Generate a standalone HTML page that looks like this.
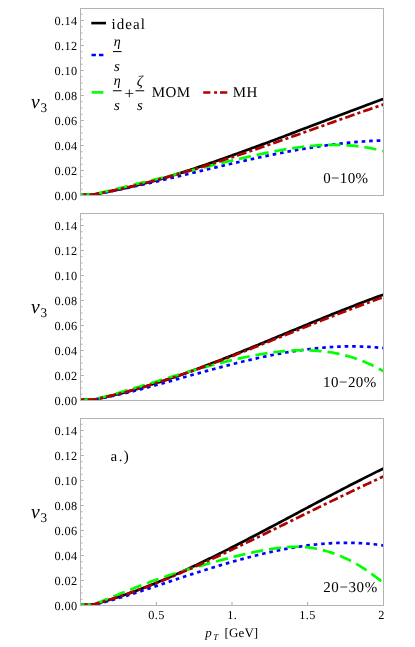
<!DOCTYPE html><html><head><meta charset="utf-8"><style>html,body{margin:0;padding:0;background:#fff}svg{display:block;will-change:transform}text{font-family:"Liberation Serif",serif;fill:#000;text-rendering:geometricPrecision}</style></head><body>
<svg width="415" height="647" viewBox="0 0 415 647">
<rect width="415" height="647" fill="#fff"/>
<defs>
<clipPath id="c0"><rect x="80.00" y="8.00" width="304.00" height="188.00"/></clipPath>
<clipPath id="c1"><rect x="80.00" y="213.00" width="304.00" height="188.00"/></clipPath>
<clipPath id="c2"><rect x="80.00" y="418.00" width="304.00" height="188.00"/></clipPath>
</defs>
<g clip-path="url(#c0)" fill="none">
<path d="M383.50 98.91 C383.08 99.06 382.08 99.43 381.00 99.82 C379.92 100.22 378.33 100.79 377.00 101.28 C375.67 101.77 374.33 102.26 373.00 102.75 C371.67 103.24 370.33 103.73 369.00 104.22 C367.67 104.72 366.33 105.21 365.00 105.70 C363.67 106.20 362.33 106.69 361.00 107.19 C359.67 107.69 358.33 108.18 357.00 108.68 C355.67 109.18 354.33 109.68 353.00 110.18 C351.67 110.67 350.33 111.17 349.00 111.67 C347.67 112.17 346.33 112.68 345.00 113.18 C343.67 113.68 342.33 114.18 341.00 114.68 C339.67 115.19 338.33 115.69 337.00 116.19 C335.67 116.70 334.33 117.20 333.00 117.71 C331.67 118.21 330.33 118.71 329.00 119.22 C327.67 119.72 326.33 120.23 325.00 120.74 C323.67 121.24 322.33 121.75 321.00 122.25 C319.67 122.76 318.33 123.26 317.00 123.77 C315.67 124.28 314.33 124.78 313.00 125.29 C311.67 125.80 310.33 126.30 309.00 126.81 C307.67 127.31 306.33 127.82 305.00 128.33 C303.67 128.83 302.33 129.34 301.00 129.84 C299.67 130.35 298.33 130.85 297.00 131.36 C295.67 131.87 294.33 132.37 293.00 132.87 C291.67 133.38 290.33 133.88 289.00 134.39 C287.67 134.89 286.33 135.39 285.00 135.90 C283.67 136.40 282.33 136.90 281.00 137.40 C279.67 137.91 278.33 138.41 277.00 138.91 C275.67 139.41 274.33 139.91 273.00 140.41 C271.67 140.91 270.33 141.41 269.00 141.90 C267.67 142.40 266.33 142.90 265.00 143.40 C263.67 143.89 262.33 144.39 261.00 144.88 C259.67 145.38 258.33 145.87 257.00 146.36 C255.67 146.86 254.33 147.35 253.00 147.84 C251.67 148.33 250.33 148.82 249.00 149.31 C247.67 149.80 246.33 150.28 245.00 150.77 C243.67 151.26 242.33 151.74 241.00 152.22 C239.67 152.71 238.33 153.19 237.00 153.67 C235.67 154.15 234.33 154.63 233.00 155.11 C231.67 155.59 230.33 156.07 229.00 156.54 C227.67 157.02 226.33 157.49 225.00 157.97 C223.67 158.44 222.33 158.91 221.00 159.38 C219.67 159.85 218.33 160.32 217.00 160.78 C215.67 161.25 214.33 161.71 213.00 162.18 C211.67 162.64 210.33 163.10 209.00 163.56 C207.67 164.02 206.33 164.47 205.00 164.93 C203.67 165.38 202.33 165.84 201.00 166.29 C199.67 166.74 198.33 167.19 197.00 167.63 C195.67 168.08 194.33 168.52 193.00 168.96 C191.67 169.40 190.33 169.84 189.00 170.27 C187.67 170.70 186.33 171.14 185.00 171.56 C183.67 171.99 182.33 172.42 181.00 172.84 C179.67 173.26 178.33 173.68 177.00 174.09 C175.67 174.51 174.33 174.92 173.00 175.33 C171.67 175.73 170.33 176.14 169.00 176.54 C167.67 176.94 166.33 177.33 165.00 177.73 C163.67 178.12 162.33 178.51 161.00 178.89 C159.67 179.27 158.33 179.65 157.00 180.03 C155.67 180.40 154.33 180.77 153.00 181.14 C151.67 181.50 150.33 181.86 149.00 182.22 C147.67 182.57 146.33 182.93 145.00 183.27 C143.67 183.62 142.33 183.96 141.00 184.30 C139.67 184.63 138.33 184.97 137.00 185.29 C135.67 185.62 134.33 185.94 133.00 186.26 C131.67 186.58 130.33 186.89 129.00 187.20 C127.67 187.51 126.33 187.82 125.00 188.12 C123.67 188.42 122.33 188.72 121.00 189.01 C119.67 189.30 118.33 189.59 117.00 189.87 C115.67 190.16 114.33 190.44 113.00 190.71 C111.67 190.99 110.33 191.26 109.00 191.53 C107.67 191.80 106.33 192.06 105.00 192.33 C103.67 192.59 102.33 192.84 101.00 193.10 C99.67 193.35 98.33 193.61 97.00 193.85 C95.67 194.10 95.75 194.45 93.00 194.59 C90.25 194.73 82.58 194.68 80.50 194.70" stroke="#000" stroke-width="2.7"/>
<path d="M383.50 140.44 C383.08 140.46 382.08 140.48 381.00 140.52 C379.92 140.56 378.33 140.62 377.00 140.67 C375.67 140.73 374.33 140.79 373.00 140.86 C371.67 140.93 370.33 141.00 369.00 141.08 C367.67 141.16 366.33 141.25 365.00 141.34 C363.67 141.43 362.33 141.52 361.00 141.62 C359.67 141.73 358.33 141.83 357.00 141.94 C355.67 142.05 354.33 142.17 353.00 142.29 C351.67 142.41 350.33 142.54 349.00 142.67 C347.67 142.80 346.33 142.94 345.00 143.08 C343.67 143.22 342.33 143.37 341.00 143.52 C339.67 143.67 338.33 143.82 337.00 143.98 C335.67 144.14 334.33 144.31 333.00 144.48 C331.67 144.64 330.33 144.82 329.00 144.99 C327.67 145.17 326.33 145.35 325.00 145.54 C323.67 145.72 322.33 145.91 321.00 146.11 C319.67 146.30 318.33 146.50 317.00 146.70 C315.67 146.90 314.33 147.11 313.00 147.31 C311.67 147.52 310.33 147.74 309.00 147.95 C307.67 148.17 306.33 148.39 305.00 148.61 C303.67 148.84 302.33 149.06 301.00 149.29 C299.67 149.52 298.33 149.76 297.00 149.99 C295.67 150.23 294.33 150.47 293.00 150.71 C291.67 150.96 290.33 151.20 289.00 151.45 C287.67 151.70 286.33 151.96 285.00 152.21 C283.67 152.47 282.33 152.72 281.00 152.98 C279.67 153.25 278.33 153.51 277.00 153.77 C275.67 154.04 274.33 154.31 273.00 154.58 C271.67 154.85 270.33 155.13 269.00 155.40 C267.67 155.68 266.33 155.96 265.00 156.24 C263.67 156.52 262.33 156.80 261.00 157.08 C259.67 157.37 258.33 157.66 257.00 157.95 C255.67 158.23 254.33 158.53 253.00 158.82 C251.67 159.11 250.33 159.41 249.00 159.70 C247.67 160.00 246.33 160.30 245.00 160.60 C243.67 160.90 242.33 161.20 241.00 161.50 C239.67 161.80 238.33 162.11 237.00 162.41 C235.67 162.72 234.33 163.02 233.00 163.33 C231.67 163.64 230.33 163.95 229.00 164.26 C227.67 164.57 226.33 164.88 225.00 165.19 C223.67 165.51 222.33 165.82 221.00 166.13 C219.67 166.45 218.33 166.76 217.00 167.08 C215.67 167.39 214.33 167.71 213.00 168.03 C211.67 168.34 210.33 168.66 209.00 168.98 C207.67 169.30 206.33 169.62 205.00 169.94 C203.67 170.25 202.33 170.57 201.00 170.89 C199.67 171.21 198.33 171.53 197.00 171.85 C195.67 172.17 194.33 172.49 193.00 172.81 C191.67 173.13 190.33 173.45 189.00 173.77 C187.67 174.09 186.33 174.41 185.00 174.72 C183.67 175.04 182.33 175.36 181.00 175.68 C179.67 176.00 178.33 176.32 177.00 176.63 C175.67 176.95 174.33 177.27 173.00 177.58 C171.67 177.90 170.33 178.21 169.00 178.53 C167.67 178.84 166.33 179.15 165.00 179.47 C163.67 179.78 162.33 180.09 161.00 180.40 C159.67 180.71 158.33 181.02 157.00 181.33 C155.67 181.64 154.33 181.95 153.00 182.25 C151.67 182.56 150.33 182.86 149.00 183.16 C147.67 183.47 146.33 183.77 145.00 184.07 C143.67 184.37 142.33 184.67 141.00 184.96 C139.67 185.26 138.33 185.55 137.00 185.85 C135.67 186.14 134.33 186.43 133.00 186.72 C131.67 187.01 130.33 187.30 129.00 187.58 C127.67 187.87 126.33 188.15 125.00 188.43 C123.67 188.71 122.33 188.99 121.00 189.27 C119.67 189.55 118.33 189.82 117.00 190.09 C115.67 190.36 114.33 190.63 113.00 190.90 C111.67 191.16 110.33 191.43 109.00 191.69 C107.67 191.95 106.33 192.21 105.00 192.47 C103.67 192.72 102.33 192.97 101.00 193.22 C99.67 193.47 98.33 193.72 97.00 193.96 C95.67 194.21 95.75 194.56 93.00 194.69 C90.25 194.81 82.58 194.70 80.50 194.70" stroke="#0000ff" stroke-width="2.7" stroke-dasharray="3.6 3.9" stroke-dashoffset="4.25"/>
<path d="M383.50 151.26 C383.08 151.14 382.08 150.86 381.00 150.58 C379.92 150.31 378.33 149.91 377.00 149.59 C375.67 149.28 374.33 148.99 373.00 148.71 C371.67 148.43 370.33 148.16 369.00 147.92 C367.67 147.67 366.33 147.44 365.00 147.23 C363.67 147.01 362.33 146.81 361.00 146.63 C359.67 146.44 358.33 146.27 357.00 146.12 C355.67 145.97 354.33 145.83 353.00 145.70 C351.67 145.58 350.33 145.47 349.00 145.37 C347.67 145.27 346.33 145.19 345.00 145.12 C343.67 145.05 342.33 144.99 341.00 144.95 C339.67 144.90 338.33 144.87 337.00 144.86 C335.67 144.84 334.33 144.83 333.00 144.84 C331.67 144.84 330.33 144.86 329.00 144.89 C327.67 144.92 326.33 144.96 325.00 145.01 C323.67 145.06 322.33 145.13 321.00 145.20 C319.67 145.27 318.33 145.36 317.00 145.45 C315.67 145.54 314.33 145.65 313.00 145.76 C311.67 145.87 310.33 146.00 309.00 146.13 C307.67 146.26 306.33 146.40 305.00 146.55 C303.67 146.70 302.33 146.86 301.00 147.03 C299.67 147.19 298.33 147.37 297.00 147.55 C295.67 147.73 294.33 147.92 293.00 148.12 C291.67 148.32 290.33 148.52 289.00 148.74 C287.67 148.95 286.33 149.17 285.00 149.39 C283.67 149.62 282.33 149.85 281.00 150.08 C279.67 150.32 278.33 150.56 277.00 150.81 C275.67 151.06 274.33 151.32 273.00 151.57 C271.67 151.83 270.33 152.10 269.00 152.36 C267.67 152.63 266.33 152.90 265.00 153.18 C263.67 153.46 262.33 153.74 261.00 154.02 C259.67 154.31 258.33 154.59 257.00 154.88 C255.67 155.18 254.33 155.47 253.00 155.77 C251.67 156.06 250.33 156.36 249.00 156.66 C247.67 156.96 246.33 157.27 245.00 157.57 C243.67 157.88 242.33 158.18 241.00 158.49 C239.67 158.80 238.33 159.11 237.00 159.42 C235.67 159.73 234.33 160.04 233.00 160.35 C231.67 160.67 230.33 160.98 229.00 161.29 C227.67 161.61 226.33 161.93 225.00 162.24 C223.67 162.56 222.33 162.88 221.00 163.20 C219.67 163.52 218.33 163.84 217.00 164.16 C215.67 164.48 214.33 164.80 213.00 165.12 C211.67 165.45 210.33 165.77 209.00 166.09 C207.67 166.42 206.33 166.74 205.00 167.07 C203.67 167.39 202.33 167.72 201.00 168.05 C199.67 168.37 198.33 168.70 197.00 169.03 C195.67 169.36 194.33 169.69 193.00 170.02 C191.67 170.34 190.33 170.67 189.00 171.00 C187.67 171.33 186.33 171.66 185.00 172.00 C183.67 172.33 182.33 172.66 181.00 172.99 C179.67 173.32 178.33 173.65 177.00 173.98 C175.67 174.31 174.33 174.65 173.00 174.98 C171.67 175.31 170.33 175.64 169.00 175.97 C167.67 176.31 166.33 176.64 165.00 176.97 C163.67 177.30 162.33 177.64 161.00 177.97 C159.67 178.30 158.33 178.63 157.00 178.96 C155.67 179.30 154.33 179.63 153.00 179.96 C151.67 180.29 150.33 180.62 149.00 180.95 C147.67 181.28 146.33 181.61 145.00 181.94 C143.67 182.27 142.33 182.60 141.00 182.93 C139.67 183.26 138.33 183.59 137.00 183.92 C135.67 184.25 134.33 184.58 133.00 184.90 C131.67 185.23 130.33 185.56 129.00 185.88 C127.67 186.21 126.33 186.54 125.00 186.86 C123.67 187.19 122.33 187.51 121.00 187.83 C119.67 188.16 118.33 188.48 117.00 188.80 C115.67 189.12 114.33 189.44 113.00 189.76 C111.67 190.08 110.33 190.40 109.00 190.72 C107.67 191.04 106.33 191.35 105.00 191.67 C103.67 191.99 102.33 192.30 101.00 192.61 C99.67 192.93 98.33 193.24 97.00 193.55 C95.67 193.86 95.75 194.29 93.00 194.48 C90.25 194.67 82.58 194.66 80.50 194.70" stroke="#00ff00" stroke-width="2.7" stroke-dasharray="12.2 5.9" stroke-dashoffset="10.65"/>
<path d="M383.50 104.42 C383.08 104.56 382.08 104.90 381.00 105.27 C379.92 105.65 378.33 106.19 377.00 106.65 C375.67 107.11 374.33 107.57 373.00 108.04 C371.67 108.50 370.33 108.96 369.00 109.43 C367.67 109.89 366.33 110.36 365.00 110.82 C363.67 111.29 362.33 111.75 361.00 112.22 C359.67 112.69 358.33 113.16 357.00 113.62 C355.67 114.09 354.33 114.56 353.00 115.03 C351.67 115.50 350.33 115.97 349.00 116.44 C347.67 116.91 346.33 117.39 345.00 117.86 C343.67 118.33 342.33 118.80 341.00 119.27 C339.67 119.75 338.33 120.22 337.00 120.69 C335.67 121.17 334.33 121.64 333.00 122.11 C331.67 122.59 330.33 123.06 329.00 123.53 C327.67 124.01 326.33 124.48 325.00 124.96 C323.67 125.43 322.33 125.91 321.00 126.38 C319.67 126.86 318.33 127.33 317.00 127.80 C315.67 128.28 314.33 128.75 313.00 129.23 C311.67 129.70 310.33 130.18 309.00 130.65 C307.67 131.12 306.33 131.60 305.00 132.07 C303.67 132.54 302.33 133.02 301.00 133.49 C299.67 133.96 298.33 134.44 297.00 134.91 C295.67 135.38 294.33 135.85 293.00 136.32 C291.67 136.79 290.33 137.26 289.00 137.73 C287.67 138.20 286.33 138.67 285.00 139.14 C283.67 139.61 282.33 140.08 281.00 140.55 C279.67 141.02 278.33 141.48 277.00 141.95 C275.67 142.41 274.33 142.88 273.00 143.34 C271.67 143.81 270.33 144.27 269.00 144.74 C267.67 145.20 266.33 145.66 265.00 146.12 C263.67 146.58 262.33 147.04 261.00 147.50 C259.67 147.96 258.33 148.42 257.00 148.88 C255.67 149.33 254.33 149.79 253.00 150.24 C251.67 150.70 250.33 151.15 249.00 151.60 C247.67 152.05 246.33 152.50 245.00 152.95 C243.67 153.40 242.33 153.85 241.00 154.30 C239.67 154.75 238.33 155.19 237.00 155.63 C235.67 156.08 234.33 156.52 233.00 156.96 C231.67 157.40 230.33 157.84 229.00 158.28 C227.67 158.72 226.33 159.15 225.00 159.59 C223.67 160.02 222.33 160.46 221.00 160.89 C219.67 161.32 218.33 161.75 217.00 162.17 C215.67 162.60 214.33 163.03 213.00 163.45 C211.67 163.87 210.33 164.30 209.00 164.72 C207.67 165.14 206.33 165.55 205.00 165.97 C203.67 166.39 202.33 166.80 201.00 167.21 C199.67 167.62 198.33 168.03 197.00 168.44 C195.67 168.85 194.33 169.25 193.00 169.66 C191.67 170.06 190.33 170.46 189.00 170.86 C187.67 171.26 186.33 171.65 185.00 172.05 C183.67 172.44 182.33 172.83 181.00 173.22 C179.67 173.61 178.33 174.00 177.00 174.38 C175.67 174.77 174.33 175.15 173.00 175.53 C171.67 175.91 170.33 176.28 169.00 176.66 C167.67 177.03 166.33 177.40 165.00 177.77 C163.67 178.14 162.33 178.50 161.00 178.87 C159.67 179.23 158.33 179.59 157.00 179.95 C155.67 180.30 154.33 180.66 153.00 181.01 C151.67 181.36 150.33 181.71 149.00 182.05 C147.67 182.40 146.33 182.74 145.00 183.08 C143.67 183.42 142.33 183.76 141.00 184.09 C139.67 184.42 138.33 184.75 137.00 185.08 C135.67 185.41 134.33 185.73 133.00 186.05 C131.67 186.37 130.33 186.69 129.00 187.00 C127.67 187.31 126.33 187.62 125.00 187.93 C123.67 188.24 122.33 188.54 121.00 188.84 C119.67 189.14 118.33 189.44 117.00 189.73 C115.67 190.02 114.33 190.31 113.00 190.60 C111.67 190.88 110.33 191.16 109.00 191.44 C107.67 191.72 106.33 191.99 105.00 192.26 C103.67 192.54 102.33 192.80 101.00 193.07 C99.67 193.33 98.33 193.59 97.00 193.84 C95.67 194.10 95.75 194.45 93.00 194.60 C90.25 194.74 82.58 194.68 80.50 194.70" stroke="#b00000" stroke-width="2.7" stroke-dasharray="9.8 3.1 3.1 3.1" stroke-dashoffset="7.5"/>
</g>
<rect x="80.5" y="8.5" width="303.0" height="187.0" fill="none" stroke="#b3b3b3" stroke-width="1"/>
<path d="M80.50 195.50h3.4M80.50 189.25h2.1M80.50 183.00h2.1M80.50 176.75h2.1M80.50 170.50h3.4M80.50 164.25h2.1M80.50 158.00h2.1M80.50 151.75h2.1M80.50 145.50h3.4M80.50 139.25h2.1M80.50 133.00h2.1M80.50 126.75h2.1M80.50 120.50h3.4M80.50 114.25h2.1M80.50 108.00h2.1M80.50 101.75h2.1M80.50 95.50h3.4M80.50 89.25h2.1M80.50 83.00h2.1M80.50 76.75h2.1M80.50 70.50h3.4M80.50 64.25h2.1M80.50 58.00h2.1M80.50 51.75h2.1M80.50 45.50h3.4M80.50 39.25h2.1M80.50 33.00h2.1M80.50 26.75h2.1M80.50 20.50h3.4M80.50 14.25h2.1" stroke="#b3b3b3" stroke-width="1" fill="none"/>
<text x="77.60" y="199.60" font-size="12.3" text-anchor="end" letter-spacing="0.4">0.00</text>
<text x="77.60" y="174.60" font-size="12.3" text-anchor="end" letter-spacing="0.4">0.02</text>
<text x="77.60" y="149.60" font-size="12.3" text-anchor="end" letter-spacing="0.4">0.04</text>
<text x="77.60" y="124.60" font-size="12.3" text-anchor="end" letter-spacing="0.4">0.06</text>
<text x="77.60" y="99.60" font-size="12.3" text-anchor="end" letter-spacing="0.4">0.08</text>
<text x="77.60" y="74.60" font-size="12.3" text-anchor="end" letter-spacing="0.4">0.10</text>
<text x="77.60" y="49.60" font-size="12.3" text-anchor="end" letter-spacing="0.4">0.12</text>
<text x="77.60" y="24.60" font-size="12.3" text-anchor="end" letter-spacing="0.4">0.14</text>
<text x="31.00" y="107.90" font-size="19.5" font-style="italic">v</text>
<text x="40.40" y="112.40" font-size="13.2">3</text>
<g clip-path="url(#c1)" fill="none">
<path d="M383.50 294.63 C383.25 294.72 382.92 294.83 382.00 295.17 C381.08 295.50 379.33 296.13 378.00 296.62 C376.67 297.10 375.33 297.59 374.00 298.09 C372.67 298.58 371.33 299.07 370.00 299.57 C368.67 300.07 367.33 300.57 366.00 301.07 C364.67 301.57 363.33 302.08 362.00 302.59 C360.67 303.10 359.33 303.61 358.00 304.12 C356.67 304.63 355.33 305.14 354.00 305.66 C352.67 306.18 351.33 306.70 350.00 307.22 C348.67 307.74 347.33 308.26 346.00 308.79 C344.67 309.31 343.33 309.84 342.00 310.37 C340.67 310.90 339.33 311.43 338.00 311.96 C336.67 312.49 335.33 313.03 334.00 313.56 C332.67 314.10 331.33 314.63 330.00 315.17 C328.67 315.71 327.33 316.25 326.00 316.79 C324.67 317.33 323.33 317.87 322.00 318.42 C320.67 318.96 319.33 319.50 318.00 320.05 C316.67 320.59 315.33 321.14 314.00 321.69 C312.67 322.24 311.33 322.78 310.00 323.33 C308.67 323.88 307.33 324.43 306.00 324.98 C304.67 325.53 303.33 326.08 302.00 326.64 C300.67 327.19 299.33 327.74 298.00 328.29 C296.67 328.85 295.33 329.40 294.00 329.95 C292.67 330.51 291.33 331.06 290.00 331.61 C288.67 332.17 287.33 332.72 286.00 333.28 C284.67 333.83 283.33 334.38 282.00 334.94 C280.67 335.49 279.33 336.05 278.00 336.60 C276.67 337.15 275.33 337.71 274.00 338.26 C272.67 338.81 271.33 339.37 270.00 339.92 C268.67 340.47 267.33 341.02 266.00 341.58 C264.67 342.13 263.33 342.68 262.00 343.23 C260.67 343.78 259.33 344.33 258.00 344.88 C256.67 345.42 255.33 345.97 254.00 346.52 C252.67 347.07 251.33 347.61 250.00 348.16 C248.67 348.70 247.33 349.24 246.00 349.79 C244.67 350.33 243.33 350.87 242.00 351.41 C240.67 351.95 239.33 352.49 238.00 353.03 C236.67 353.56 235.33 354.10 234.00 354.63 C232.67 355.17 231.33 355.70 230.00 356.23 C228.67 356.76 227.33 357.29 226.00 357.82 C224.67 358.35 223.33 358.87 222.00 359.40 C220.67 359.92 219.33 360.44 218.00 360.96 C216.67 361.48 215.33 362.00 214.00 362.51 C212.67 363.03 211.33 363.54 210.00 364.05 C208.67 364.56 207.33 365.07 206.00 365.58 C204.67 366.08 203.33 366.59 202.00 367.09 C200.67 367.59 199.33 368.09 198.00 368.58 C196.67 369.08 195.33 369.57 194.00 370.06 C192.67 370.55 191.33 371.04 190.00 371.53 C188.67 372.01 187.33 372.49 186.00 372.97 C184.67 373.45 183.33 373.92 182.00 374.40 C180.67 374.87 179.33 375.34 178.00 375.80 C176.67 376.27 175.33 376.73 174.00 377.19 C172.67 377.65 171.33 378.11 170.00 378.56 C168.67 379.01 167.33 379.46 166.00 379.90 C164.67 380.35 163.33 380.79 162.00 381.23 C160.67 381.66 159.33 382.10 158.00 382.53 C156.67 382.96 155.33 383.38 154.00 383.80 C152.67 384.23 151.33 384.64 150.00 385.06 C148.67 385.47 147.33 385.88 146.00 386.28 C144.67 386.69 143.33 387.09 142.00 387.49 C140.67 387.88 139.33 388.27 138.00 388.66 C136.67 389.05 135.33 389.43 134.00 389.81 C132.67 390.19 131.33 390.56 130.00 390.93 C128.67 391.30 127.33 391.66 126.00 392.02 C124.67 392.38 123.33 392.73 122.00 393.08 C120.67 393.43 119.33 393.77 118.00 394.11 C116.67 394.45 115.33 394.78 114.00 395.11 C112.67 395.44 111.33 395.76 110.00 396.08 C108.67 396.40 107.33 396.71 106.00 397.02 C104.67 397.32 103.33 397.62 102.00 397.92 C100.67 398.21 99.33 398.50 98.00 398.79 C96.67 399.07 96.92 399.47 94.00 399.62 C91.08 399.77 82.75 399.69 80.50 399.70" stroke="#000" stroke-width="2.7"/>
<path d="M383.50 348.09 C383.25 348.06 382.92 348.02 382.00 347.92 C381.08 347.83 379.33 347.66 378.00 347.54 C376.67 347.42 375.33 347.31 374.00 347.21 C372.67 347.11 371.33 347.01 370.00 346.93 C368.67 346.85 367.33 346.78 366.00 346.72 C364.67 346.65 363.33 346.60 362.00 346.56 C360.67 346.51 359.33 346.48 358.00 346.45 C356.67 346.42 355.33 346.41 354.00 346.40 C352.67 346.39 351.33 346.39 350.00 346.40 C348.67 346.40 347.33 346.42 346.00 346.45 C344.67 346.47 343.33 346.50 342.00 346.55 C340.67 346.59 339.33 346.64 338.00 346.69 C336.67 346.75 335.33 346.82 334.00 346.89 C332.67 346.96 331.33 347.04 330.00 347.13 C328.67 347.22 327.33 347.31 326.00 347.42 C324.67 347.52 323.33 347.63 322.00 347.75 C320.67 347.86 319.33 347.99 318.00 348.12 C316.67 348.25 315.33 348.39 314.00 348.53 C312.67 348.68 311.33 348.83 310.00 348.99 C308.67 349.15 307.33 349.31 306.00 349.48 C304.67 349.65 303.33 349.83 302.00 350.01 C300.67 350.20 299.33 350.39 298.00 350.58 C296.67 350.78 295.33 350.98 294.00 351.19 C292.67 351.39 291.33 351.61 290.00 351.82 C288.67 352.04 287.33 352.27 286.00 352.50 C284.67 352.73 283.33 352.96 282.00 353.20 C280.67 353.44 279.33 353.69 278.00 353.94 C276.67 354.19 275.33 354.44 274.00 354.70 C272.67 354.96 271.33 355.23 270.00 355.50 C268.67 355.76 267.33 356.04 266.00 356.32 C264.67 356.60 263.33 356.88 262.00 357.17 C260.67 357.45 259.33 357.74 258.00 358.04 C256.67 358.33 255.33 358.63 254.00 358.94 C252.67 359.24 251.33 359.55 250.00 359.86 C248.67 360.17 247.33 360.48 246.00 360.80 C244.67 361.12 243.33 361.44 242.00 361.76 C240.67 362.09 239.33 362.41 238.00 362.74 C236.67 363.07 235.33 363.41 234.00 363.74 C232.67 364.08 231.33 364.42 230.00 364.76 C228.67 365.10 227.33 365.45 226.00 365.80 C224.67 366.14 223.33 366.49 222.00 366.84 C220.67 367.20 219.33 367.55 218.00 367.91 C216.67 368.26 215.33 368.62 214.00 368.98 C212.67 369.34 211.33 369.70 210.00 370.07 C208.67 370.43 207.33 370.80 206.00 371.16 C204.67 371.53 203.33 371.90 202.00 372.27 C200.67 372.64 199.33 373.01 198.00 373.38 C196.67 373.75 195.33 374.13 194.00 374.50 C192.67 374.87 191.33 375.25 190.00 375.62 C188.67 376.00 187.33 376.37 186.00 376.75 C184.67 377.13 183.33 377.50 182.00 377.88 C180.67 378.26 179.33 378.63 178.00 379.01 C176.67 379.38 175.33 379.76 174.00 380.13 C172.67 380.51 171.33 380.88 170.00 381.26 C168.67 381.63 167.33 382.00 166.00 382.38 C164.67 382.75 163.33 383.12 162.00 383.49 C160.67 383.86 159.33 384.22 158.00 384.59 C156.67 384.96 155.33 385.32 154.00 385.68 C152.67 386.04 151.33 386.40 150.00 386.76 C148.67 387.12 147.33 387.48 146.00 387.83 C144.67 388.18 143.33 388.53 142.00 388.88 C140.67 389.23 139.33 389.57 138.00 389.92 C136.67 390.26 135.33 390.60 134.00 390.93 C132.67 391.27 131.33 391.60 130.00 391.93 C128.67 392.26 127.33 392.58 126.00 392.90 C124.67 393.23 123.33 393.54 122.00 393.86 C120.67 394.17 119.33 394.48 118.00 394.78 C116.67 395.09 115.33 395.39 114.00 395.68 C112.67 395.98 111.33 396.27 110.00 396.55 C108.67 396.84 107.33 397.12 106.00 397.39 C104.67 397.67 103.33 397.94 102.00 398.20 C100.67 398.47 99.33 398.73 98.00 398.98 C96.67 399.23 96.92 399.60 94.00 399.72 C91.08 399.84 82.75 399.70 80.50 399.70" stroke="#0000ff" stroke-width="2.7" stroke-dasharray="3.6 3.9" stroke-dashoffset="2.2"/>
<path d="M383.50 371.28 C383.25 371.13 382.92 370.92 382.00 370.41 C381.08 369.90 379.33 368.92 378.00 368.21 C376.67 367.51 375.33 366.82 374.00 366.16 C372.67 365.50 371.33 364.86 370.00 364.25 C368.67 363.64 367.33 363.05 366.00 362.48 C364.67 361.91 363.33 361.37 362.00 360.84 C360.67 360.32 359.33 359.82 358.00 359.34 C356.67 358.86 355.33 358.40 354.00 357.97 C352.67 357.53 351.33 357.11 350.00 356.72 C348.67 356.32 347.33 355.94 346.00 355.59 C344.67 355.23 343.33 354.90 342.00 354.58 C340.67 354.26 339.33 353.96 338.00 353.69 C336.67 353.41 335.33 353.15 334.00 352.90 C332.67 352.66 331.33 352.44 330.00 352.23 C328.67 352.02 327.33 351.83 326.00 351.66 C324.67 351.49 323.33 351.33 322.00 351.19 C320.67 351.05 319.33 350.93 318.00 350.82 C316.67 350.71 315.33 350.62 314.00 350.55 C312.67 350.47 311.33 350.41 310.00 350.36 C308.67 350.32 307.33 350.28 306.00 350.27 C304.67 350.25 303.33 350.25 302.00 350.25 C300.67 350.26 299.33 350.29 298.00 350.32 C296.67 350.36 295.33 350.41 294.00 350.47 C292.67 350.53 291.33 350.61 290.00 350.69 C288.67 350.78 287.33 350.87 286.00 350.98 C284.67 351.09 283.33 351.21 282.00 351.34 C280.67 351.47 279.33 351.61 278.00 351.77 C276.67 351.92 275.33 352.08 274.00 352.25 C272.67 352.42 271.33 352.60 270.00 352.79 C268.67 352.98 267.33 353.18 266.00 353.38 C264.67 353.59 263.33 353.81 262.00 354.03 C260.67 354.25 259.33 354.48 258.00 354.72 C256.67 354.96 255.33 355.20 254.00 355.45 C252.67 355.71 251.33 355.96 250.00 356.23 C248.67 356.49 247.33 356.76 246.00 357.04 C244.67 357.32 243.33 357.60 242.00 357.89 C240.67 358.18 239.33 358.47 238.00 358.77 C236.67 359.07 235.33 359.37 234.00 359.68 C232.67 359.99 231.33 360.30 230.00 360.62 C228.67 360.94 227.33 361.27 226.00 361.60 C224.67 361.92 223.33 362.26 222.00 362.59 C220.67 362.93 219.33 363.27 218.00 363.62 C216.67 363.96 215.33 364.31 214.00 364.67 C212.67 365.02 211.33 365.38 210.00 365.74 C208.67 366.10 207.33 366.46 206.00 366.83 C204.67 367.20 203.33 367.57 202.00 367.94 C200.67 368.31 199.33 368.69 198.00 369.07 C196.67 369.45 195.33 369.83 194.00 370.21 C192.67 370.60 191.33 370.98 190.00 371.37 C188.67 371.76 187.33 372.15 186.00 372.55 C184.67 372.94 183.33 373.33 182.00 373.73 C180.67 374.13 179.33 374.52 178.00 374.92 C176.67 375.32 175.33 375.72 174.00 376.12 C172.67 376.53 171.33 376.93 170.00 377.33 C168.67 377.74 167.33 378.14 166.00 378.55 C164.67 378.95 163.33 379.36 162.00 379.77 C160.67 380.17 159.33 380.58 158.00 380.98 C156.67 381.39 155.33 381.80 154.00 382.20 C152.67 382.61 151.33 383.02 150.00 383.42 C148.67 383.83 147.33 384.23 146.00 384.64 C144.67 385.04 143.33 385.45 142.00 385.85 C140.67 386.25 139.33 386.66 138.00 387.06 C136.67 387.46 135.33 387.86 134.00 388.25 C132.67 388.65 131.33 389.05 130.00 389.44 C128.67 389.84 127.33 390.23 126.00 390.62 C124.67 391.01 123.33 391.40 122.00 391.79 C120.67 392.18 119.33 392.56 118.00 392.94 C116.67 393.32 115.33 393.70 114.00 394.08 C112.67 394.46 111.33 394.83 110.00 395.20 C108.67 395.57 107.33 395.94 106.00 396.30 C104.67 396.67 103.33 397.03 102.00 397.38 C100.67 397.74 99.33 398.09 98.00 398.44 C96.67 398.79 96.92 399.27 94.00 399.48 C91.08 399.69 82.75 399.66 80.50 399.70" stroke="#00ff00" stroke-width="2.7" stroke-dasharray="12.2 5.9" stroke-dashoffset="6.8"/>
<path d="M383.50 297.04 C383.25 297.13 382.92 297.25 382.00 297.58 C381.08 297.90 379.33 298.53 378.00 299.01 C376.67 299.49 375.33 299.97 374.00 300.45 C372.67 300.94 371.33 301.43 370.00 301.92 C368.67 302.41 367.33 302.90 366.00 303.39 C364.67 303.89 363.33 304.38 362.00 304.88 C360.67 305.38 359.33 305.88 358.00 306.38 C356.67 306.88 355.33 307.39 354.00 307.89 C352.67 308.40 351.33 308.91 350.00 309.41 C348.67 309.92 347.33 310.44 346.00 310.95 C344.67 311.46 343.33 311.97 342.00 312.49 C340.67 313.01 339.33 313.52 338.00 314.04 C336.67 314.56 335.33 315.08 334.00 315.60 C332.67 316.12 331.33 316.65 330.00 317.17 C328.67 317.69 327.33 318.22 326.00 318.74 C324.67 319.27 323.33 319.80 322.00 320.33 C320.67 320.85 319.33 321.38 318.00 321.91 C316.67 322.44 315.33 322.97 314.00 323.50 C312.67 324.04 311.33 324.57 310.00 325.10 C308.67 325.63 307.33 326.17 306.00 326.70 C304.67 327.23 303.33 327.77 302.00 328.30 C300.67 328.84 299.33 329.37 298.00 329.91 C296.67 330.45 295.33 330.98 294.00 331.52 C292.67 332.05 291.33 332.59 290.00 333.13 C288.67 333.66 287.33 334.20 286.00 334.73 C284.67 335.27 283.33 335.81 282.00 336.34 C280.67 336.88 279.33 337.42 278.00 337.95 C276.67 338.49 275.33 339.02 274.00 339.56 C272.67 340.09 271.33 340.63 270.00 341.16 C268.67 341.70 267.33 342.23 266.00 342.76 C264.67 343.30 263.33 343.83 262.00 344.36 C260.67 344.89 259.33 345.42 258.00 345.95 C256.67 346.48 255.33 347.01 254.00 347.54 C252.67 348.07 251.33 348.60 250.00 349.13 C248.67 349.65 247.33 350.18 246.00 350.70 C244.67 351.23 243.33 351.75 242.00 352.27 C240.67 352.80 239.33 353.32 238.00 353.84 C236.67 354.36 235.33 354.88 234.00 355.39 C232.67 355.91 231.33 356.43 230.00 356.94 C228.67 357.45 227.33 357.97 226.00 358.48 C224.67 358.99 223.33 359.50 222.00 360.00 C220.67 360.51 219.33 361.02 218.00 361.52 C216.67 362.02 215.33 362.53 214.00 363.03 C212.67 363.53 211.33 364.02 210.00 364.52 C208.67 365.01 207.33 365.51 206.00 366.00 C204.67 366.49 203.33 366.98 202.00 367.47 C200.67 367.95 199.33 368.44 198.00 368.92 C196.67 369.40 195.33 369.88 194.00 370.36 C192.67 370.84 191.33 371.31 190.00 371.78 C188.67 372.25 187.33 372.72 186.00 373.19 C184.67 373.66 183.33 374.12 182.00 374.58 C180.67 375.04 179.33 375.50 178.00 375.95 C176.67 376.41 175.33 376.86 174.00 377.31 C172.67 377.76 171.33 378.20 170.00 378.65 C168.67 379.09 167.33 379.53 166.00 379.96 C164.67 380.40 163.33 380.83 162.00 381.26 C160.67 381.69 159.33 382.12 158.00 382.54 C156.67 382.96 155.33 383.38 154.00 383.79 C152.67 384.21 151.33 384.62 150.00 385.03 C148.67 385.44 147.33 385.84 146.00 386.24 C144.67 386.64 143.33 387.03 142.00 387.43 C140.67 387.82 139.33 388.21 138.00 388.59 C136.67 388.97 135.33 389.35 134.00 389.73 C132.67 390.11 131.33 390.48 130.00 390.84 C128.67 391.21 127.33 391.57 126.00 391.93 C124.67 392.29 123.33 392.64 122.00 392.99 C120.67 393.34 119.33 393.69 118.00 394.03 C116.67 394.37 115.33 394.70 114.00 395.03 C112.67 395.37 111.33 395.69 110.00 396.01 C108.67 396.33 107.33 396.65 106.00 396.96 C104.67 397.27 103.33 397.58 102.00 397.88 C100.67 398.18 99.33 398.48 98.00 398.77 C96.67 399.06 96.92 399.47 94.00 399.62 C91.08 399.78 82.75 399.69 80.50 399.70" stroke="#b00000" stroke-width="2.7" stroke-dasharray="9.6 3.1 3.1 3.1" stroke-dashoffset="17.0"/>
</g>
<rect x="80.5" y="213.5" width="303.0" height="187.0" fill="none" stroke="#b3b3b3" stroke-width="1"/>
<path d="M80.50 400.50h3.4M80.50 394.25h2.1M80.50 388.00h2.1M80.50 381.75h2.1M80.50 375.50h3.4M80.50 369.25h2.1M80.50 363.00h2.1M80.50 356.75h2.1M80.50 350.50h3.4M80.50 344.25h2.1M80.50 338.00h2.1M80.50 331.75h2.1M80.50 325.50h3.4M80.50 319.25h2.1M80.50 313.00h2.1M80.50 306.75h2.1M80.50 300.50h3.4M80.50 294.25h2.1M80.50 288.00h2.1M80.50 281.75h2.1M80.50 275.50h3.4M80.50 269.25h2.1M80.50 263.00h2.1M80.50 256.75h2.1M80.50 250.50h3.4M80.50 244.25h2.1M80.50 238.00h2.1M80.50 231.75h2.1M80.50 225.50h3.4M80.50 219.25h2.1" stroke="#b3b3b3" stroke-width="1" fill="none"/>
<text x="77.60" y="404.60" font-size="12.3" text-anchor="end" letter-spacing="0.4">0.00</text>
<text x="77.60" y="379.60" font-size="12.3" text-anchor="end" letter-spacing="0.4">0.02</text>
<text x="77.60" y="354.60" font-size="12.3" text-anchor="end" letter-spacing="0.4">0.04</text>
<text x="77.60" y="329.60" font-size="12.3" text-anchor="end" letter-spacing="0.4">0.06</text>
<text x="77.60" y="304.60" font-size="12.3" text-anchor="end" letter-spacing="0.4">0.08</text>
<text x="77.60" y="279.60" font-size="12.3" text-anchor="end" letter-spacing="0.4">0.10</text>
<text x="77.60" y="254.60" font-size="12.3" text-anchor="end" letter-spacing="0.4">0.12</text>
<text x="77.60" y="229.60" font-size="12.3" text-anchor="end" letter-spacing="0.4">0.14</text>
<text x="31.00" y="312.90" font-size="19.5" font-style="italic">v</text>
<text x="40.40" y="317.40" font-size="13.2">3</text>
<g clip-path="url(#c2)" fill="none">
<path d="M383.50 468.47 C383.08 468.67 382.08 469.16 381.00 469.69 C379.92 470.22 378.33 471.00 377.00 471.66 C375.67 472.32 374.33 472.98 373.00 473.64 C371.67 474.30 370.33 474.97 369.00 475.64 C367.67 476.31 366.33 476.98 365.00 477.65 C363.67 478.32 362.33 479.00 361.00 479.67 C359.67 480.35 358.33 481.03 357.00 481.71 C355.67 482.39 354.33 483.07 353.00 483.75 C351.67 484.44 350.33 485.12 349.00 485.81 C347.67 486.50 346.33 487.19 345.00 487.88 C343.67 488.57 342.33 489.26 341.00 489.96 C339.67 490.65 338.33 491.34 337.00 492.04 C335.67 492.74 334.33 493.43 333.00 494.13 C331.67 494.83 330.33 495.53 329.00 496.23 C327.67 496.93 326.33 497.63 325.00 498.34 C323.67 499.04 322.33 499.74 321.00 500.45 C319.67 501.15 318.33 501.86 317.00 502.56 C315.67 503.27 314.33 503.98 313.00 504.68 C311.67 505.39 310.33 506.10 309.00 506.81 C307.67 507.51 306.33 508.22 305.00 508.93 C303.67 509.64 302.33 510.35 301.00 511.06 C299.67 511.77 298.33 512.48 297.00 513.19 C295.67 513.90 294.33 514.61 293.00 515.32 C291.67 516.02 290.33 516.73 289.00 517.44 C287.67 518.15 286.33 518.86 285.00 519.57 C283.67 520.28 282.33 520.99 281.00 521.70 C279.67 522.40 278.33 523.11 277.00 523.82 C275.67 524.53 274.33 525.23 273.00 525.94 C271.67 526.65 270.33 527.35 269.00 528.06 C267.67 528.76 266.33 529.46 265.00 530.17 C263.67 530.87 262.33 531.57 261.00 532.27 C259.67 532.97 258.33 533.67 257.00 534.37 C255.67 535.07 254.33 535.77 253.00 536.46 C251.67 537.16 250.33 537.86 249.00 538.55 C247.67 539.24 246.33 539.94 245.00 540.63 C243.67 541.32 242.33 542.01 241.00 542.69 C239.67 543.38 238.33 544.07 237.00 544.75 C235.67 545.44 234.33 546.12 233.00 546.80 C231.67 547.48 230.33 548.16 229.00 548.84 C227.67 549.51 226.33 550.19 225.00 550.86 C223.67 551.53 222.33 552.20 221.00 552.87 C219.67 553.54 218.33 554.21 217.00 554.87 C215.67 555.53 214.33 556.20 213.00 556.86 C211.67 557.51 210.33 558.17 209.00 558.82 C207.67 559.48 206.33 560.13 205.00 560.78 C203.67 561.42 202.33 562.07 201.00 562.71 C199.67 563.35 198.33 563.99 197.00 564.63 C195.67 565.26 194.33 565.90 193.00 566.52 C191.67 567.15 190.33 567.78 189.00 568.40 C187.67 569.02 186.33 569.64 185.00 570.25 C183.67 570.87 182.33 571.48 181.00 572.09 C179.67 572.69 178.33 573.30 177.00 573.89 C175.67 574.49 174.33 575.09 173.00 575.68 C171.67 576.27 170.33 576.85 169.00 577.44 C167.67 578.02 166.33 578.59 165.00 579.17 C163.67 579.74 162.33 580.31 161.00 580.87 C159.67 581.43 158.33 581.99 157.00 582.54 C155.67 583.10 154.33 583.64 153.00 584.19 C151.67 584.73 150.33 585.27 149.00 585.80 C147.67 586.33 146.33 586.86 145.00 587.38 C143.67 587.90 142.33 588.42 141.00 588.93 C139.67 589.44 138.33 589.94 137.00 590.44 C135.67 590.94 134.33 591.43 133.00 591.92 C131.67 592.40 130.33 592.88 129.00 593.36 C127.67 593.83 126.33 594.30 125.00 594.76 C123.67 595.23 122.33 595.68 121.00 596.13 C119.67 596.58 118.33 597.02 117.00 597.46 C115.67 597.89 114.33 598.32 113.00 598.74 C111.67 599.16 110.33 599.58 109.00 599.99 C107.67 600.39 106.33 600.80 105.00 601.19 C103.67 601.58 102.33 601.97 101.00 602.35 C99.67 602.73 98.33 603.10 97.00 603.46 C95.67 603.82 95.75 604.32 93.00 604.53 C90.25 604.74 82.58 604.67 80.50 604.70" stroke="#000" stroke-width="2.7"/>
<path d="M383.50 545.47 C383.25 545.43 382.92 545.38 382.00 545.25 C381.08 545.12 379.33 544.87 378.00 544.71 C376.67 544.54 375.33 544.38 374.00 544.23 C372.67 544.09 371.33 543.95 370.00 543.83 C368.67 543.71 367.33 543.60 366.00 543.49 C364.67 543.39 363.33 543.31 362.00 543.23 C360.67 543.15 359.33 543.08 358.00 543.02 C356.67 542.97 355.33 542.92 354.00 542.88 C352.67 542.85 351.33 542.82 350.00 542.81 C348.67 542.79 347.33 542.79 346.00 542.79 C344.67 542.79 343.33 542.81 342.00 542.83 C340.67 542.86 339.33 542.89 338.00 542.93 C336.67 542.98 335.33 543.03 334.00 543.09 C332.67 543.15 331.33 543.23 330.00 543.31 C328.67 543.39 327.33 543.47 326.00 543.57 C324.67 543.67 323.33 543.78 322.00 543.89 C320.67 544.01 319.33 544.13 318.00 544.26 C316.67 544.39 315.33 544.53 314.00 544.68 C312.67 544.83 311.33 544.99 310.00 545.15 C308.67 545.31 307.33 545.48 306.00 545.66 C304.67 545.84 303.33 546.03 302.00 546.22 C300.67 546.42 299.33 546.62 298.00 546.83 C296.67 547.04 295.33 547.25 294.00 547.47 C292.67 547.70 291.33 547.93 290.00 548.16 C288.67 548.40 287.33 548.64 286.00 548.89 C284.67 549.14 283.33 549.39 282.00 549.65 C280.67 549.92 279.33 550.18 278.00 550.46 C276.67 550.73 275.33 551.01 274.00 551.29 C272.67 551.58 271.33 551.87 270.00 552.17 C268.67 552.46 267.33 552.76 266.00 553.07 C264.67 553.38 263.33 553.69 262.00 554.00 C260.67 554.32 259.33 554.64 258.00 554.97 C256.67 555.30 255.33 555.63 254.00 555.96 C252.67 556.30 251.33 556.64 250.00 556.98 C248.67 557.33 247.33 557.68 246.00 558.03 C244.67 558.38 243.33 558.74 242.00 559.10 C240.67 559.46 239.33 559.82 238.00 560.19 C236.67 560.56 235.33 560.93 234.00 561.31 C232.67 561.68 231.33 562.06 230.00 562.45 C228.67 562.83 227.33 563.22 226.00 563.61 C224.67 563.99 223.33 564.39 222.00 564.78 C220.67 565.18 219.33 565.58 218.00 565.98 C216.67 566.38 215.33 566.79 214.00 567.19 C212.67 567.60 211.33 568.01 210.00 568.42 C208.67 568.83 207.33 569.25 206.00 569.67 C204.67 570.09 203.33 570.51 202.00 570.93 C200.67 571.35 199.33 571.77 198.00 572.20 C196.67 572.63 195.33 573.06 194.00 573.49 C192.67 573.92 191.33 574.35 190.00 574.78 C188.67 575.22 187.33 575.65 186.00 576.09 C184.67 576.53 183.33 576.97 182.00 577.41 C180.67 577.85 179.33 578.29 178.00 578.73 C176.67 579.18 175.33 579.62 174.00 580.07 C172.67 580.51 171.33 580.96 170.00 581.40 C168.67 581.85 167.33 582.30 166.00 582.75 C164.67 583.20 163.33 583.65 162.00 584.10 C160.67 584.54 159.33 584.99 158.00 585.44 C156.67 585.89 155.33 586.34 154.00 586.79 C152.67 587.23 151.33 587.68 150.00 588.12 C148.67 588.57 147.33 589.01 146.00 589.45 C144.67 589.90 143.33 590.34 142.00 590.77 C140.67 591.21 139.33 591.64 138.00 592.08 C136.67 592.51 135.33 592.94 134.00 593.37 C132.67 593.79 131.33 594.22 130.00 594.63 C128.67 595.05 127.33 595.47 126.00 595.88 C124.67 596.29 123.33 596.70 122.00 597.10 C120.67 597.51 119.33 597.90 118.00 598.30 C116.67 598.69 115.33 599.08 114.00 599.46 C112.67 599.84 111.33 600.22 110.00 600.59 C108.67 600.96 107.33 601.32 106.00 601.68 C104.67 602.04 103.33 602.39 102.00 602.73 C100.67 603.08 99.33 603.41 98.00 603.74 C96.67 604.07 96.92 604.55 94.00 604.71 C91.08 604.87 82.75 604.70 80.50 604.70" stroke="#0000ff" stroke-width="2.7" stroke-dasharray="3.6 3.9" stroke-dashoffset="1.1"/>
<path d="M383.50 583.02 C383.25 582.81 382.92 582.52 382.00 581.79 C381.08 581.05 379.33 579.64 378.00 578.60 C376.67 577.56 375.33 576.55 374.00 575.56 C372.67 574.58 371.33 573.61 370.00 572.68 C368.67 571.74 367.33 570.83 366.00 569.94 C364.67 569.05 363.33 568.19 362.00 567.36 C360.67 566.52 359.33 565.71 358.00 564.92 C356.67 564.14 355.33 563.38 354.00 562.64 C352.67 561.91 351.33 561.20 350.00 560.51 C348.67 559.83 347.33 559.17 346.00 558.53 C344.67 557.90 343.33 557.29 342.00 556.71 C340.67 556.13 339.33 555.57 338.00 555.04 C336.67 554.50 335.33 554.00 334.00 553.52 C332.67 553.04 331.33 552.58 330.00 552.15 C328.67 551.72 327.33 551.32 326.00 550.94 C324.67 550.56 323.33 550.20 322.00 549.88 C320.67 549.55 319.33 549.25 318.00 548.97 C316.67 548.70 315.33 548.44 314.00 548.22 C312.67 547.99 311.33 547.80 310.00 547.62 C308.67 547.45 307.33 547.30 306.00 547.18 C304.67 547.06 303.33 546.96 302.00 546.89 C300.67 546.82 299.33 546.78 298.00 546.76 C296.67 546.74 295.33 546.75 294.00 546.78 C292.67 546.80 291.33 546.85 290.00 546.92 C288.67 546.99 287.33 547.09 286.00 547.19 C284.67 547.30 283.33 547.43 282.00 547.56 C280.67 547.70 279.33 547.86 278.00 548.03 C276.67 548.19 275.33 548.37 274.00 548.56 C272.67 548.75 271.33 548.95 270.00 549.16 C268.67 549.37 267.33 549.59 266.00 549.82 C264.67 550.05 263.33 550.29 262.00 550.54 C260.67 550.79 259.33 551.04 258.00 551.31 C256.67 551.57 255.33 551.84 254.00 552.12 C252.67 552.40 251.33 552.69 250.00 552.98 C248.67 553.27 247.33 553.57 246.00 553.88 C244.67 554.19 243.33 554.50 242.00 554.81 C240.67 555.13 239.33 555.45 238.00 555.78 C236.67 556.11 235.33 556.44 234.00 556.78 C232.67 557.11 231.33 557.45 230.00 557.79 C228.67 558.14 227.33 558.48 226.00 558.83 C224.67 559.18 223.33 559.54 222.00 559.89 C220.67 560.24 219.33 560.60 218.00 560.96 C216.67 561.32 215.33 561.68 214.00 562.04 C212.67 562.40 211.33 562.76 210.00 563.13 C208.67 563.50 207.33 563.87 206.00 564.24 C204.67 564.61 203.33 564.98 202.00 565.36 C200.67 565.74 199.33 566.12 198.00 566.50 C196.67 566.88 195.33 567.27 194.00 567.66 C192.67 568.05 191.33 568.44 190.00 568.84 C188.67 569.23 187.33 569.63 186.00 570.04 C184.67 570.44 183.33 570.85 182.00 571.26 C180.67 571.67 179.33 572.09 178.00 572.51 C176.67 572.93 175.33 573.35 174.00 573.78 C172.67 574.21 171.33 574.65 170.00 575.09 C168.67 575.53 167.33 575.97 166.00 576.42 C164.67 576.87 163.33 577.32 162.00 577.78 C160.67 578.24 159.33 578.70 158.00 579.17 C156.67 579.65 155.33 580.12 154.00 580.60 C152.67 581.08 151.33 581.57 150.00 582.07 C148.67 582.56 147.33 583.06 146.00 583.56 C144.67 584.06 143.33 584.57 142.00 585.08 C140.67 585.59 139.33 586.11 138.00 586.63 C136.67 587.15 135.33 587.67 134.00 588.20 C132.67 588.73 131.33 589.26 130.00 589.79 C128.67 590.32 127.33 590.86 126.00 591.40 C124.67 591.93 123.33 592.47 122.00 593.01 C120.67 593.55 119.33 594.10 118.00 594.64 C116.67 595.18 115.33 595.73 114.00 596.27 C112.67 596.81 111.33 597.36 110.00 597.90 C108.67 598.45 107.33 598.99 106.00 599.54 C104.67 600.08 103.33 600.62 102.00 601.17 C100.67 601.71 99.33 602.25 98.00 602.79 C96.67 603.33 96.92 604.08 94.00 604.40 C91.08 604.72 82.75 604.65 80.50 604.70" stroke="#00ff00" stroke-width="2.7" stroke-dasharray="12.2 5.9" stroke-dashoffset="15.0"/>
<path d="M383.50 476.44 C383.08 476.63 382.08 477.09 381.00 477.59 C379.92 478.09 378.33 478.82 377.00 479.44 C375.67 480.06 374.33 480.68 373.00 481.30 C371.67 481.92 370.33 482.55 369.00 483.17 C367.67 483.80 366.33 484.42 365.00 485.05 C363.67 485.68 362.33 486.31 361.00 486.94 C359.67 487.57 358.33 488.21 357.00 488.84 C355.67 489.47 354.33 490.11 353.00 490.75 C351.67 491.38 350.33 492.02 349.00 492.66 C347.67 493.30 346.33 493.94 345.00 494.59 C343.67 495.23 342.33 495.87 341.00 496.52 C339.67 497.16 338.33 497.80 337.00 498.45 C335.67 499.10 334.33 499.74 333.00 500.39 C331.67 501.04 330.33 501.69 329.00 502.34 C327.67 502.99 326.33 503.64 325.00 504.29 C323.67 504.94 322.33 505.59 321.00 506.24 C319.67 506.90 318.33 507.55 317.00 508.20 C315.67 508.85 314.33 509.51 313.00 510.16 C311.67 510.82 310.33 511.47 309.00 512.13 C307.67 512.78 306.33 513.44 305.00 514.09 C303.67 514.75 302.33 515.40 301.00 516.06 C299.67 516.71 298.33 517.37 297.00 518.03 C295.67 518.68 294.33 519.34 293.00 519.99 C291.67 520.65 290.33 521.30 289.00 521.96 C287.67 522.61 286.33 523.27 285.00 523.93 C283.67 524.58 282.33 525.23 281.00 525.89 C279.67 526.54 278.33 527.20 277.00 527.85 C275.67 528.51 274.33 529.16 273.00 529.81 C271.67 530.46 270.33 531.12 269.00 531.77 C267.67 532.42 266.33 533.07 265.00 533.72 C263.67 534.37 262.33 535.02 261.00 535.67 C259.67 536.32 258.33 536.97 257.00 537.61 C255.67 538.26 254.33 538.91 253.00 539.55 C251.67 540.20 250.33 540.84 249.00 541.48 C247.67 542.13 246.33 542.77 245.00 543.41 C243.67 544.05 242.33 544.69 241.00 545.33 C239.67 545.97 238.33 546.60 237.00 547.24 C235.67 547.88 234.33 548.51 233.00 549.14 C231.67 549.78 230.33 550.41 229.00 551.04 C227.67 551.67 226.33 552.30 225.00 552.92 C223.67 553.55 222.33 554.18 221.00 554.80 C219.67 555.42 218.33 556.04 217.00 556.66 C215.67 557.28 214.33 557.90 213.00 558.52 C211.67 559.13 210.33 559.75 209.00 560.36 C207.67 560.97 206.33 561.58 205.00 562.19 C203.67 562.80 202.33 563.40 201.00 564.01 C199.67 564.61 198.33 565.21 197.00 565.81 C195.67 566.40 194.33 567.00 193.00 567.59 C191.67 568.18 190.33 568.77 189.00 569.36 C187.67 569.95 186.33 570.53 185.00 571.11 C183.67 571.69 182.33 572.27 181.00 572.84 C179.67 573.42 178.33 573.99 177.00 574.56 C175.67 575.13 174.33 575.69 173.00 576.25 C171.67 576.81 170.33 577.37 169.00 577.92 C167.67 578.48 166.33 579.03 165.00 579.57 C163.67 580.12 162.33 580.66 161.00 581.20 C159.67 581.74 158.33 582.28 157.00 582.81 C155.67 583.34 154.33 583.86 153.00 584.39 C151.67 584.91 150.33 585.43 149.00 585.94 C147.67 586.45 146.33 586.96 145.00 587.47 C143.67 587.97 142.33 588.47 141.00 588.97 C139.67 589.47 138.33 589.96 137.00 590.44 C135.67 590.93 134.33 591.41 133.00 591.89 C131.67 592.36 130.33 592.83 129.00 593.30 C127.67 593.77 126.33 594.23 125.00 594.68 C123.67 595.14 122.33 595.59 121.00 596.03 C119.67 596.48 118.33 596.92 117.00 597.35 C115.67 597.79 114.33 598.21 113.00 598.64 C111.67 599.06 110.33 599.48 109.00 599.89 C107.67 600.30 106.33 600.70 105.00 601.10 C103.67 601.50 102.33 601.90 101.00 602.28 C99.67 602.67 98.33 603.05 97.00 603.42 C95.67 603.80 95.75 604.32 93.00 604.53 C90.25 604.74 82.58 604.67 80.50 604.70" stroke="#b00000" stroke-width="2.7" stroke-dasharray="9.3 3.1 3.1 3.1" stroke-dashoffset="5.2"/>
</g>
<rect x="80.5" y="418.5" width="303.0" height="187.0" fill="none" stroke="#b3b3b3" stroke-width="1"/>
<path d="M80.50 605.50h3.4M80.50 599.25h2.1M80.50 593.00h2.1M80.50 586.75h2.1M80.50 580.50h3.4M80.50 574.25h2.1M80.50 568.00h2.1M80.50 561.75h2.1M80.50 555.50h3.4M80.50 549.25h2.1M80.50 543.00h2.1M80.50 536.75h2.1M80.50 530.50h3.4M80.50 524.25h2.1M80.50 518.00h2.1M80.50 511.75h2.1M80.50 505.50h3.4M80.50 499.25h2.1M80.50 493.00h2.1M80.50 486.75h2.1M80.50 480.50h3.4M80.50 474.25h2.1M80.50 468.00h2.1M80.50 461.75h2.1M80.50 455.50h3.4M80.50 449.25h2.1M80.50 443.00h2.1M80.50 436.75h2.1M80.50 430.50h3.4M80.50 424.25h2.1" stroke="#b3b3b3" stroke-width="1" fill="none"/>
<text x="77.60" y="609.60" font-size="12.3" text-anchor="end" letter-spacing="0.4">0.00</text>
<text x="77.60" y="584.60" font-size="12.3" text-anchor="end" letter-spacing="0.4">0.02</text>
<text x="77.60" y="559.60" font-size="12.3" text-anchor="end" letter-spacing="0.4">0.04</text>
<text x="77.60" y="534.60" font-size="12.3" text-anchor="end" letter-spacing="0.4">0.06</text>
<text x="77.60" y="509.60" font-size="12.3" text-anchor="end" letter-spacing="0.4">0.08</text>
<text x="77.60" y="484.60" font-size="12.3" text-anchor="end" letter-spacing="0.4">0.10</text>
<text x="77.60" y="459.60" font-size="12.3" text-anchor="end" letter-spacing="0.4">0.12</text>
<text x="77.60" y="434.60" font-size="12.3" text-anchor="end" letter-spacing="0.4">0.14</text>
<text x="31.00" y="517.90" font-size="19.5" font-style="italic">v</text>
<text x="40.40" y="522.40" font-size="13.2">3</text>
<path d="M156.40 605.50v-3.5M232.00 605.50v-3.5M307.60 605.50v-3.5" stroke="#aaaaaa" stroke-width="1" fill="none"/>
<text x="156.50" y="618.90" font-size="12.3" text-anchor="middle" letter-spacing="0.4">0.5</text>
<text x="232.30" y="618.90" font-size="12.3" text-anchor="middle" letter-spacing="0.4">1.</text>
<text x="307.60" y="618.90" font-size="12.3" text-anchor="middle" letter-spacing="0.4">1.5</text>
<text x="381.60" y="618.90" font-size="12.3" text-anchor="middle" letter-spacing="0.4">2</text>

<!-- legend -->
<g fill="none" stroke-width="2.6">
<path d="M91.3 23.1H106" stroke="#000"/>
<path d="M91.5 55h4.4M99 55h4.4" stroke="#0000ff"/>
<path d="M91.7 92.4H103.4" stroke="#00ff00"/>
<path d="M203.2 92.5h7.2M214.1 92.5h2.9M220 92.5h7.3" stroke="#b00000"/>
</g>
<g font-size="15">
<text x="111.6" y="28.7" letter-spacing="1.05">ideal</text>
<text x="113.7" y="45.9" font-size="14" font-style="italic">η</text>
<path d="M112.9 51.6H121.6" stroke="#000" stroke-width="1"/>
<text x="114" y="70.6" font-style="italic">s</text>
<text x="113.7" y="85.4" font-size="14" font-style="italic">η</text>
<path d="M112.9 90.75H121.6M135.5 90.75H144.2" stroke="#000" stroke-width="1"/>
<text x="114" y="109.7" font-style="italic">s</text>
<text x="124.4" y="98.6" font-size="17">+</text>
<text x="136.7" y="86.3" font-style="italic">ζ</text>
<text x="137" y="109.7" font-style="italic">s</text>
<text x="151.7" y="96.9" letter-spacing="0.4">MOM</text>
<text x="232.7" y="97.3" letter-spacing="0.6">MH</text>
<text x="323.3" y="182.5" letter-spacing="0.3">0−10%</text>
<text x="323.1" y="387.3" letter-spacing="0.45">10−20%</text>
<text x="323.2" y="591.9" letter-spacing="0.6">20−30%</text>
<text x="110.6" y="460.7" letter-spacing="1.4">a.)</text>
</g>
<text x="205.3" y="637.2" font-size="13" font-style="italic">p</text>
<text x="213.2" y="640" font-size="8.8" font-style="italic">T</text>
<text x="224.6" y="637.2" font-size="13" letter-spacing="0.1">[GeV]</text>

</svg></body></html>
